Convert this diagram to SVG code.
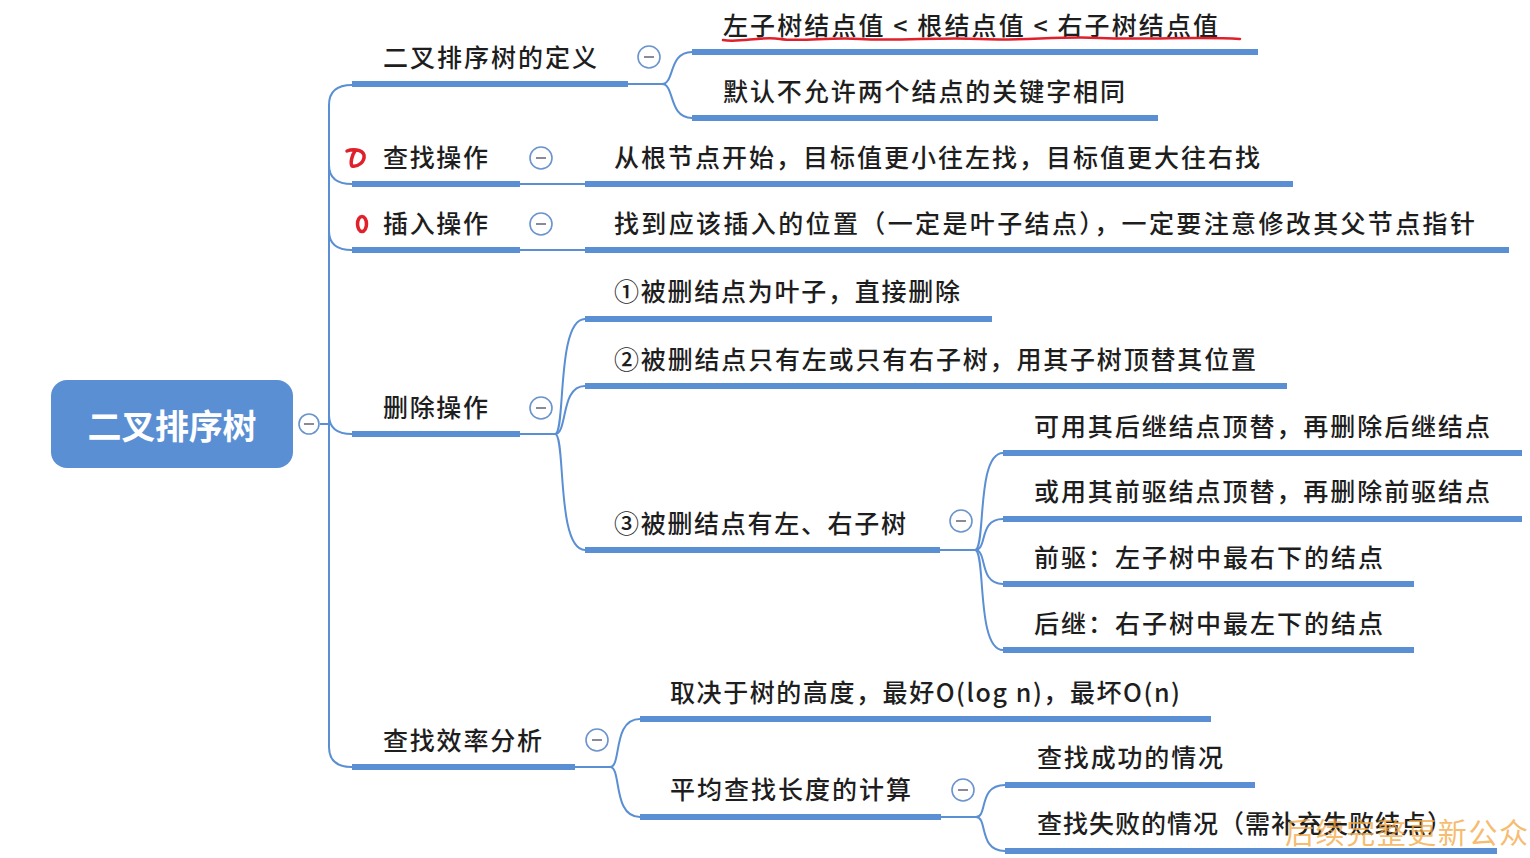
<svg xmlns="http://www.w3.org/2000/svg" width="1530" height="858" viewBox="0 0 1530 858">
<style>
.t{font-family:"Noto Sans CJK SC","Noto Sans",sans-serif;font-size:25px;font-weight:500;fill:#1e1e1e;}
.u{stroke:#5b8fd3;stroke-width:6;fill:none;}
.c{stroke:#5b8fd3;stroke-width:2;fill:none;}
.col circle{fill:#fff;stroke:#6b94cc;stroke-width:1.6;}
.col line{stroke:#8a8a9a;stroke-width:2;}
.red{stroke:#e0202a;stroke-width:2.5;fill:none;stroke-linecap:round;stroke-linejoin:round;}
.redb{stroke:#e0202a;stroke-width:3.5;fill:none;stroke-linecap:round;stroke-linejoin:round;}
</style>
<rect width="1530" height="858" fill="#ffffff"/>
<g id="connectors">
  <path class="c" d="M320,424 H329"/>
  <path class="c" d="M352,85 Q329,85 329,105 V747 Q329,767 352,767"/>
  <path class="c" d="M329,165 Q329,184 352,184"/>
  <path class="c" d="M329,231 Q329,250 352,250"/>
  <path class="c" d="M329,415 Q329,434 352,434"/>
  <path class="c" d="M628,84 H662 C675,84 668,52 692,52"/>
  <path class="c" d="M628,84 H662 C675,84 668,118 692,118"/>
  <path class="c" d="M520,184 H585"/>
  <path class="c" d="M520,250 H585"/>
  <path class="c" d="M520,434 H555 C566,434 556,319 585,319"/>
  <path class="c" d="M555,434 C568,434 560,386 585,386"/>
  <path class="c" d="M555,434 C566,434 556,550 585,550"/>
  <path class="c" d="M940,550 H975 C986,550 976,453 1003,453"/>
  <path class="c" d="M975,550 C988,550 978,519 1003,519"/>
  <path class="c" d="M975,550 C988,550 978,584 1003,584"/>
  <path class="c" d="M975,550 C986,550 976,650 1003,650"/>
  <path class="c" d="M575,767 H610 C622,767 612,719 640,719"/>
  <path class="c" d="M610,767 C622,767 612,817 640,817"/>
  <path class="c" d="M941,817 H976 C988,817 978,785 1005,785"/>
  <path class="c" d="M976,817 C988,817 978,851 1005,851"/>
</g>
<g id="root">
  <rect x="51" y="380" width="242" height="88" rx="16" fill="#5a8fd4"/>
  <text x="172" y="439" text-anchor="middle" font-family="Noto Sans CJK SC, sans-serif" font-size="34" font-weight="bold" fill="#ffffff" textLength="169" lengthAdjust="spacing">二叉排序树</text>
  <g class="col"><circle cx="309" cy="424" r="10"/><line x1="304" y1="424" x2="314" y2="424"/></g>
</g>
<g id="n-def">
  <path class="u" d="M352,84 H628"/>
  <text class="t" x="383" y="67" textLength="214" lengthAdjust="spacing">二叉排序树的定义</text>
  <g class="col"><circle cx="649" cy="57" r="11"/><line x1="644" y1="57" x2="654" y2="57"/></g>
</g>
<g id="n-def1">
  <path class="u" d="M692,52 H1258"/>
  <text class="t" x="723" y="35" textLength="495" lengthAdjust="spacing">左子树结点值 &lt; 根结点值 &lt; 右子树结点值</text>
</g>
<g id="n-def2">
  <path class="u" d="M692,118 H1158"/>
  <text class="t" x="723" y="101" textLength="402" lengthAdjust="spacing">默认不允许两个结点的关键字相同</text>
</g>
<g id="n-find">
  <path class="u" d="M352,184 H520"/>
  <text class="t" x="383" y="167" textLength="105" lengthAdjust="spacing">查找操作</text>
  <g class="col"><circle cx="541" cy="158" r="11"/><line x1="536" y1="158" x2="546" y2="158"/></g>
</g>
<g id="n-find1">
  <path class="u" d="M585,184 H1293"/>
  <text class="t" x="614" y="167" textLength="646" lengthAdjust="spacing">从根节点开始，目标值更小往左找，目标值更大往右找</text>
</g>
<g id="n-ins">
  <path class="u" d="M352,250 H520"/>
  <text class="t" x="383" y="233" textLength="105" lengthAdjust="spacing">插入操作</text>
  <g class="col"><circle cx="541" cy="224" r="11"/><line x1="536" y1="224" x2="546" y2="224"/></g>
</g>
<g id="n-ins1">
  <path class="u" d="M585,250 H1509"/>
  <text class="t" x="614" y="233" textLength="861" lengthAdjust="spacing">找到应该插入的位置（一定是叶子结点），一定要注意修改其父节点指针</text>
</g>
<g id="n-del">
  <path class="u" d="M352,434 H520"/>
  <text class="t" x="383" y="417" textLength="105" lengthAdjust="spacing">删除操作</text>
  <g class="col"><circle cx="541" cy="408" r="11"/><line x1="536" y1="408" x2="546" y2="408"/></g>
</g>
<g id="n-del1">
  <path class="u" d="M585,319 H992"/>
  <text class="t" x="614" y="301" textLength="346" lengthAdjust="spacing">①被删结点为叶子，直接删除</text>
</g>
<g id="n-del2">
  <path class="u" d="M585,386 H1287"/>
  <text class="t" x="614" y="369" textLength="642" lengthAdjust="spacing">②被删结点只有左或只有右子树，用其子树顶替其位置</text>
</g>
<g id="n-del3">
  <path class="u" d="M585,550 H940"/>
  <text class="t" x="614" y="533" textLength="292" lengthAdjust="spacing">③被删结点有左、右子树</text>
  <g class="col"><circle cx="961" cy="521" r="11"/><line x1="956" y1="521" x2="966" y2="521"/></g>
</g>
<g id="n-del3a">
  <path class="u" d="M1003,453 H1522"/>
  <text class="t" x="1034" y="436" textLength="456" lengthAdjust="spacing">可用其后继结点顶替，再删除后继结点</text>
</g>
<g id="n-del3b">
  <path class="u" d="M1003,519 H1522"/>
  <text class="t" x="1034" y="501" textLength="456" lengthAdjust="spacing">或用其前驱结点顶替，再删除前驱结点</text>
</g>
<g id="n-del3c">
  <path class="u" d="M1003,584 H1414"/>
  <text class="t" x="1034" y="567" textLength="349" lengthAdjust="spacing">前驱：左子树中最右下的结点</text>
</g>
<g id="n-del3d">
  <path class="u" d="M1003,650 H1414"/>
  <text class="t" x="1034" y="633" textLength="349" lengthAdjust="spacing">后继：右子树中最左下的结点</text>
</g>
<g id="n-eff">
  <path class="u" d="M352,767 H575"/>
  <text class="t" x="383" y="750" textLength="159" lengthAdjust="spacing">查找效率分析</text>
  <g class="col"><circle cx="597" cy="740" r="11"/><line x1="592" y1="740" x2="602" y2="740"/></g>
</g>
<g id="n-eff1">
  <path class="u" d="M640,719 H1211"/>
  <text class="t" x="670" y="702" textLength="510" lengthAdjust="spacing">取决于树的高度，最好O(log n)，最坏O(n)</text>
</g>
<g id="n-eff2">
  <path class="u" d="M640,817 H941"/>
  <text class="t" x="670" y="799" textLength="241" lengthAdjust="spacing">平均查找长度的计算</text>
  <g class="col"><circle cx="963" cy="790" r="11"/><line x1="958" y1="790" x2="968" y2="790"/></g>
</g>
<g id="n-eff2a">
  <path class="u" d="M1005,785 H1255"/>
  <text class="t" x="1037" y="767" textLength="186" lengthAdjust="spacing">查找成功的情况</text>
</g>
<g id="n-eff2b">
  <path class="u" d="M1005,851 H1497"/>
  <text class="t" x="1037" y="833" textLength="415" lengthAdjust="spacing">查找失败的情况（需补充失败结点）</text>
</g>
<g id="annotations">
  <path class="red" d="M723,40 C740,43 760,36 780,39 C800,42 830,37 860,39 C900,41 940,37 980,39 C1020,41 1060,36 1100,38 C1150,40 1200,36 1240,39"/>
  <path class="redb" d="M347,151 C352,149 362,149 364,155 C365,162 358,167 352,166 C350,163 352,155 355,151"/>
  <ellipse class="redb" cx="362" cy="224" rx="4.5" ry="7.5"/>
</g>
<g id="watermark">
  <text x="1285" y="844" font-family="Noto Sans CJK SC, sans-serif" font-size="29" fill="#f3a640" fill-opacity="0.75" textLength="243" lengthAdjust="spacing">后续完整更新公众</text>
</g>
</svg>
